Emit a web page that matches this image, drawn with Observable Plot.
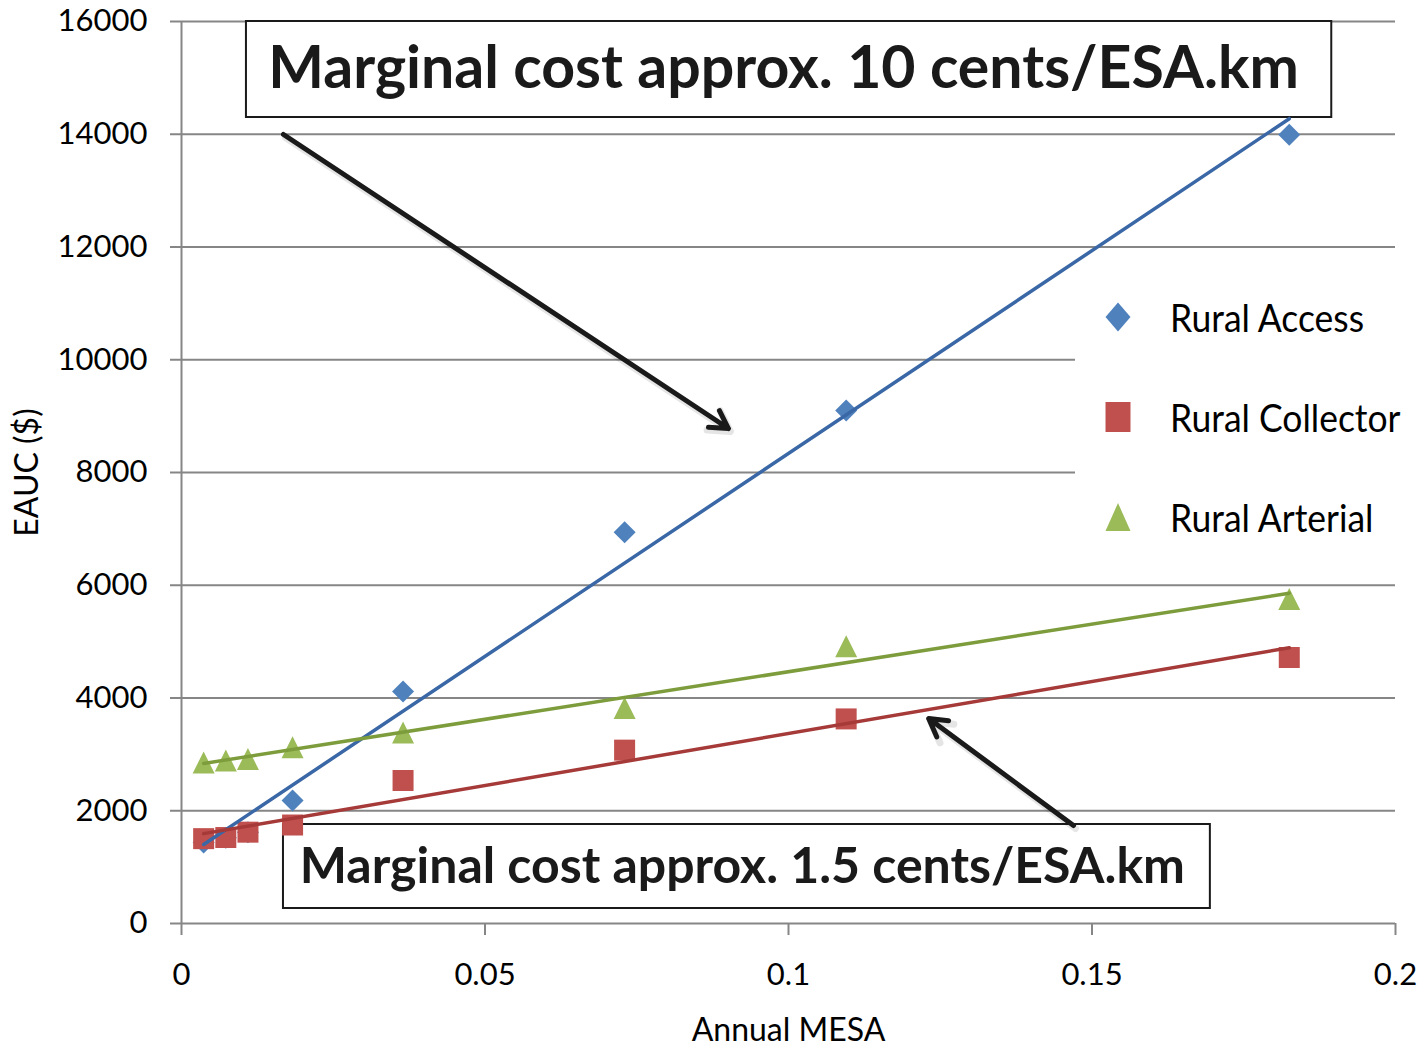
<!DOCTYPE html>
<html>
<head>
<meta charset="utf-8">
<script src="https://cdn.jsdelivr.net/npm/d3@7"></script>
<script src="https://cdn.jsdelivr.net/npm/@observablehq/plot@0.6"></script>
<style>
  html, body { margin: 0; padding: 0; background: #fff; }
  #wrap { position: relative; width: 1421px; height: 1048px; font-family: Lato, sans-serif; }
  #legend { position: absolute; left: 1075px; top: 272px; }
</style>
</head>
<body>
<div id="wrap"></div>
<script>
// ---- data ----
const annualMESA = [0.00365, 0.0073, 0.01095, 0.0183, 0.0365, 0.073, 0.1095, 0.1825];
const ruralAccess = [1437, 1520, 1620, 2182, 4115, 6942, 9100, 13990];
const ruralCollector = [1505, 1525, 1620, 1747, 2537, 3075, 3629, 4718];
const ruralArterial = [2856, 2891, 2918, 3128, 3388, 3823, 4920, 5758];
const seriesNames = ["Rural Access", "Rural Collector", "Rural Arterial"];
const xTicks = [0, 0.05, 0.1, 0.15, 0.2];
const yTicks = [0, 2000, 4000, 6000, 8000, 10000, 12000, 14000, 16000];
const xTitle = "Annual MESA";
const yTitle = "EAUC ($)";
const noteTexts = ["Marginal cost approx. 10 cents/ESA.km", "Marginal cost approx. 1.5 cents/ESA.km"];
// annotation anchors in data units (x = Annual MESA, y = EAUC)
const noteBoxX1 = [0.0107, 0.0168];
const noteBoxX2 = [0.1895, 0.1695];
const noteBoxY1 = [14297, 266];
const noteBoxY2 = [16000, 1756];
const noteTextX = [0.0992, 0.0924];
const noteTextY = [15149, 1011];
const arrowX1 = [0.0168, 0.14695];
const arrowY1 = [13996, 1738];
const arrowX2 = [0.0901, 0.1231];
const arrowY2 = [8780, 3636];

// ---- build tables ----
const seriesValues = [ruralAccess, ruralCollector, ruralArterial];
const rows = seriesNames.flatMap((s, i) => annualMESA.map((x, j) => ({series: s, x, y: seriesValues[i][j]})));
const notes = noteTexts.map((t, i) => ({text: t, x1: noteBoxX1[i], x2: noteBoxX2[i], y1: noteBoxY1[i], y2: noteBoxY2[i], tx: noteTextX[i], ty: noteTextY[i]}));
const arrows = arrowX1.map((_, i) => ({x1: arrowX1[i], y1: arrowY1[i], x2: arrowX2[i], y2: arrowY2[i]}));

const markerColor = {"Rural Access": "#4F81BD", "Rural Collector": "#C0504D", "Rural Arterial": "#9BBB59"};
const lineColor = {"Rural Access": "#3A67A6", "Rural Collector": "#A53A38", "Rural Arterial": "#7D9C3C"};

// Excel-like marker shapes with fixed pixel half-extents (hx, hy)
const diamond = (hx, hy = hx) => ({draw(c) { c.moveTo(0, -hy); c.lineTo(hx, 0); c.lineTo(0, hy); c.lineTo(-hx, 0); c.closePath(); }});
const square = (hx, hy = hx) => ({draw(c) { c.moveTo(-hx, -hy); c.lineTo(hx, -hy); c.lineTo(hx, hy); c.lineTo(-hx, hy); c.closePath(); }});
const triangle = (hx, hy = hx) => ({draw(c) { c.moveTo(0, -hy); c.lineTo(hx, hy); c.lineTo(-hx, hy); c.closePath(); }});
const symbolOf = {"Rural Access": diamond(11), "Rural Collector": square(10.5), "Rural Arterial": triangle(11)};
const legendSymbolOf = {"Rural Access": diamond(12.5, 14.5), "Rural Collector": square(12.5, 15), "Rural Arterial": triangle(12.5, 14)};

const GRID = "#868686";

const marks = [
  Plot.gridY(yTicks, {stroke: GRID, strokeOpacity: 1, strokeWidth: 2}),
  Plot.axisY(yTicks, {tickSize: 11, tickPadding: 23, fontSize: 31, stroke: GRID, strokeWidth: 2, fill: "#000", tickFormat: d => String(d), label: null}),
  Plot.axisX(xTicks, {tickSize: 12, tickPadding: 27, fontSize: 31, stroke: GRID, strokeWidth: 2, fill: "#000", tickFormat: d => String(d), label: null}),
  Plot.ruleX([0], {stroke: GRID, strokeWidth: 2}),
  Plot.text([yTitle], {frameAnchor: "left", dx: -154, rotate: -90, fontSize: 32, fill: "#000", textAnchor: "middle", lineAnchor: "middle"}),
  Plot.text([xTitle], {frameAnchor: "bottom", dy: 107, fontSize: 32, fill: "#000", textAnchor: "middle", lineAnchor: "middle"}),
  Plot.rect(notes, {x1: "x1", x2: "x2", y1: "y1", y2: "y2", fill: "white", stroke: "#1a1a1a", strokeWidth: 2}),
  Plot.text([notes[0]], {x: "tx", y: "ty", text: "text", fontSize: 59, fontWeight: "bold", fill: "#1a1a1a", lineAnchor: "middle"}),
  Plot.text([notes[1]], {x: "tx", y: "ty", text: "text", fontSize: 50, fontWeight: "bold", fill: "#1a1a1a", lineAnchor: "middle"})
];
for (const s of seriesNames) {
  marks.push(Plot.dot(rows.filter(d => d.series === s), {x: "x", y: "y", symbol: symbolOf[s], r: 10, fill: markerColor[s], stroke: "none"}));
}
for (const s of seriesNames) {
  marks.push(Plot.linearRegressionY(rows.filter(d => d.series === s), {x: "x", y: "y", stroke: lineColor[s], strokeWidth: 3.5, ci: 0}));
}
// soft shadow then arrow
marks.push(Plot.arrow(arrows, {x1: "x1", y1: "y1", x2: "x2", y2: "y2", stroke: "#000", strokeOpacity: 0.1, strokeWidth: 7, headLength: 5, headAngle: 60, dx: 2, dy: 3}));
marks.push(Plot.arrow(arrows, {x1: "x1", y1: "y1", x2: "x2", y2: "y2", stroke: "#1a1a1a", strokeWidth: 5, headLength: 6, headAngle: 60}));

const chart = Plot.plot({
  width: 1421,
  height: 1048,
  marginLeft: 181,
  marginRight: 26,
  marginTop: 21,
  marginBottom: 125,
  style: {fontFamily: "Lato, sans-serif", background: "white", overflow: "visible"},
  x: {domain: [0, 0.2]},
  y: {domain: [0, 16000]},
  marks
});
const wrap = document.getElementById("wrap");
wrap.appendChild(chart);

// ---- legend (inside plot, right side) ----
const lg = d3.select(wrap).append("svg").attr("id", "legend").attr("width", 346).attr("height", 286);
lg.append("rect").attr("width", 320).attr("height", 286).attr("fill", "white");
seriesNames.forEach((s, i) => {
  const cy = 45 + i * 100;
  lg.append("path").attr("transform", `translate(43,${cy})`).attr("d", d3.symbol(legendSymbolOf[s], 1)()).attr("fill", markerColor[s]);
  lg.append("text")
    .attr("transform", `translate(95,${cy + 15}) scale(0.91,1)`)
    .attr("font-size", 39).attr("font-family", "Lato, sans-serif").attr("fill", "#000").text(s);
});
</script>
</body>
</html>
